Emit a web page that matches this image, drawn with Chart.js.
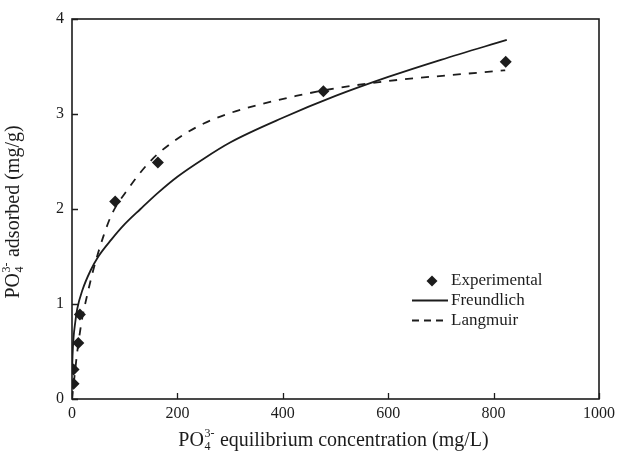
<!DOCTYPE html>
<html lang="en">
<head>
<meta charset="UTF-8">
<title>Phosphate adsorption isotherm</title>
<script src="https://cdn.jsdelivr.net/npm/chart.js"></script>
<style>
  html, body { margin: 0; padding: 0; background: #fff; }
  #wrap { width: 620px; height: 452px; }
</style>
</head>
<body>
<div id="wrap"><canvas id="isotherm"></canvas></div>
<script>
// values
const expX = [3, 3, 12, 15, 82, 163, 477, 823];
const expY = [0.16, 0.31, 0.59, 0.89, 2.08, 2.49, 3.24, 3.55];

const freundX = [0.5, 1, 3, 6, 10, 20, 35, 50, 75, 100, 130, 163, 200, 250, 300, 400, 500, 600, 700, 825];
const freundY = [0.35, 0.45, 0.65, 0.8, 0.95, 1.15, 1.35, 1.5, 1.68, 1.84, 2.0, 2.17, 2.34, 2.53, 2.7, 2.96, 3.19, 3.39, 3.57, 3.78];

const langX = [0, 2, 5, 10, 15, 20, 27, 40, 60, 76, 105, 148, 200, 250, 300, 350, 425, 500, 620, 720, 822];
const langY = [0, 0.1, 0.25, 0.5, 0.7, 0.87, 1.05, 1.35, 1.72, 1.95, 2.2, 2.5, 2.74, 2.9, 3.01, 3.09, 3.19, 3.27, 3.36, 3.41, 3.46];

const xTicks = [0, 200, 400, 600, 800, 1000];
const yTicks = [0, 1, 2, 3, 4];

const legendLabels = ['Experimental', 'Freundlich', 'Langmuir'];

const INK = '#1c1c1c';
const SERIF = '"Liberation Serif", "Times New Roman", serif';

function pairs(xs, ys) {
    return xs.map((x, i) => ({ x: x, y: ys[i] }));
}

// draws "PO4 3-" with the charge stacked over the index, returns width
function drawPO4(ctx, x, y, size, measureOnly) {
    ctx.font = size + 'px ' + SERIF;
    const w1 = ctx.measureText('PO').width;
    const small = Math.round(size * 0.6);
    ctx.font = small + 'px ' + SERIF;
    const w2 = Math.max(ctx.measureText('4').width, ctx.measureText('3-').width);
    if (!measureOnly) {
        ctx.font = size + 'px ' + SERIF;
        ctx.fillText('PO', x, y);
        ctx.font = small + 'px ' + SERIF;
        ctx.fillText('4', x + w1 + 0.5, y + 4);
        ctx.fillText('3-', x + w1 + 0.5, y - 9);
    }
    return w1 + w2 + 1;
}

function drawTitle(ctx, x, y, size, rest) {
    const w0 = drawPO4(ctx, 0, 0, size, true);
    ctx.font = size + 'px ' + SERIF;
    const total = w0 + ctx.measureText(rest).width;
    const start = x - total / 2;
    drawPO4(ctx, start, y, size, false);
    ctx.font = size + 'px ' + SERIF;
    ctx.fillText(rest, start + w0, y);
}

const framePlugin = {
    id: 'frame',
    afterDraw(chart) {
        const ctx = chart.ctx;
        const a = chart.chartArea;
        const xs = chart.scales.x, ys = chart.scales.y;
        ctx.save();
        ctx.strokeStyle = INK;
        ctx.fillStyle = INK;
        ctx.lineWidth = 1.6;
        ctx.strokeRect(a.left, a.top, a.right - a.left, a.bottom - a.top);

        // inward tick marks
        ctx.lineWidth = 1.3;
        ctx.beginPath();
        xTicks.forEach(v => {
            const px = Math.round(xs.getPixelForValue(v)) + 0.5;
            ctx.moveTo(px, a.bottom);
            ctx.lineTo(px, a.bottom - 6);
        });
        yTicks.forEach(v => {
            const py = Math.round(ys.getPixelForValue(v)) + 0.5;
            ctx.moveTo(a.left, py);
            ctx.lineTo(a.left + 6, py);
        });
        ctx.stroke();

        // axis titles
        ctx.textAlign = 'left';
        ctx.textBaseline = 'alphabetic';
        drawTitle(ctx, (a.left + a.right) / 2 - 2, 446, 20, ' equilibrium concentration (mg/L)');
        ctx.save();
        ctx.translate(19, (a.top + a.bottom) / 2 + 3);
        ctx.rotate(-Math.PI / 2);
        drawTitle(ctx, 0, 0, 20, ' adsorbed (mg/g)');
        ctx.restore();

        // legend inside the plot
        const lx = 412, tx = 451;
        const rows = [281, 300.5, 320.5];
        ctx.beginPath();
        ctx.moveTo(432, rows[0] - 5.5);
        ctx.lineTo(437.5, rows[0]);
        ctx.lineTo(432, rows[0] + 5.5);
        ctx.lineTo(426.5, rows[0]);
        ctx.closePath();
        ctx.fill();

        ctx.lineWidth = 1.8;
        ctx.beginPath();
        ctx.moveTo(lx, rows[1]);
        ctx.lineTo(448, rows[1]);
        ctx.stroke();
        ctx.setLineDash([7, 5]);
        ctx.beginPath();
        ctx.moveTo(lx, rows[2]);
        ctx.lineTo(448, rows[2]);
        ctx.stroke();
        ctx.setLineDash([]);

        ctx.font = '17px ' + SERIF;
        ctx.textBaseline = 'middle';
        legendLabels.forEach((t, i) => ctx.fillText(t, tx, rows[i]));
        ctx.restore();
    }
};

new Chart(document.getElementById('isotherm'), {
    type: 'scatter',
    data: {
        datasets: [
            {
                label: legendLabels[0],
                data: pairs(expX, expY),
                showLine: false,
                pointStyle: 'rectRot',
                pointRadius: 6,
                backgroundColor: INK,
                borderColor: INK,
                borderWidth: 0
            },
            {
                label: legendLabels[1],
                data: pairs(freundX, freundY),
                showLine: true,
                pointRadius: 0,
                borderColor: INK,
                borderWidth: 1.8,
                cubicInterpolationMode: 'monotone'
            },
            {
                label: legendLabels[2],
                data: pairs(langX, langY),
                showLine: true,
                pointRadius: 0,
                borderColor: INK,
                borderWidth: 1.8,
                borderDash: [8, 8],
                cubicInterpolationMode: 'monotone'
            }
        ]
    },
    options: {
        responsive: true,
        maintainAspectRatio: false,
        animation: false,
        layout: { padding: { top: 19, right: 16, left: 0, bottom: 0 } },
        plugins: { legend: { display: false }, tooltip: { enabled: false } },
        scales: {
            x: {
                type: 'linear',
                min: 0,
                max: 1000,
                afterBuildTicks: s => { s.ticks = xTicks.map(v => ({ value: v })); },
                afterFit: s => { s.height = 53; },
                grid: { display: false, drawTicks: false },
                border: { display: false },
                ticks: { color: INK, padding: 5, callback: v => String(v), font: { family: SERIF, size: 16 } }
            },
            y: {
                min: 0,
                max: 4,
                afterBuildTicks: s => { s.ticks = yTicks.map(v => ({ value: v })); },
                afterFit: s => { s.width = 72; },
                grid: { display: false, drawTicks: false },
                border: { display: false },
                ticks: { color: INK, padding: 8, callback: v => String(v), font: { family: SERIF, size: 16 } }
            }
        }
    },
    plugins: [framePlugin]
});
</script>
</body>
</html>
